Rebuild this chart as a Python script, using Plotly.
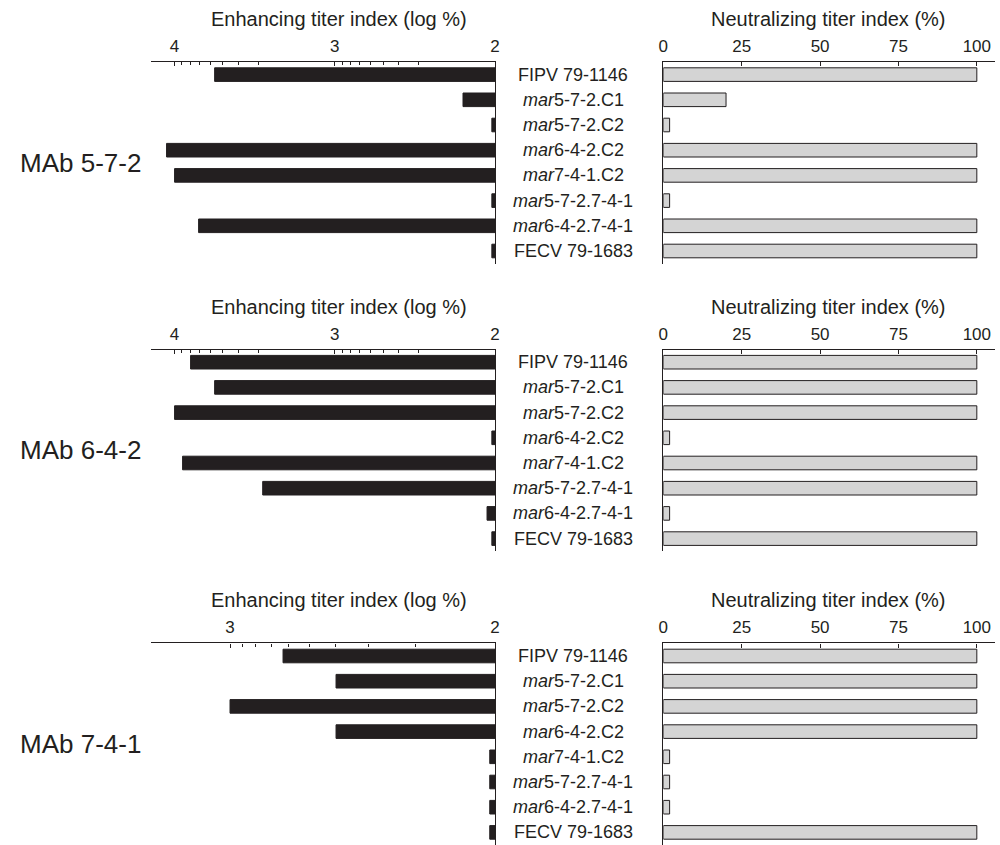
import numpy as np
import plotly.graph_objects as go

# Strains tested against each monoclonal antibody (top to bottom)
strains = ["FIPV 79-1146", "mar5-7-2.C1", "mar5-7-2.C2", "mar6-4-2.C2",
           "mar7-4-1.C2", "mar5-7-2.7-4-1", "mar6-4-2.7-4-1", "FECV 79-1683"]
strain_labels = ["FIPV 79-1146", "<i>mar</i>5-7-2.C1", "<i>mar</i>5-7-2.C2",
                 "<i>mar</i>6-4-2.C2", "<i>mar</i>7-4-1.C2", "<i>mar</i>5-7-2.7-4-1",
                 "<i>mar</i>6-4-2.7-4-1", "FECV 79-1683"]

mab_names = ["MAb 5-7-2", "MAb 6-4-2", "MAb 7-4-1"]

# Enhancing titer index, log10 of percent
enh_572 = [3.75, 2.20, 2.02, 4.05, 4.00, 2.02, 3.85, 2.02]
enh_642 = [3.90, 3.75, 4.00, 2.02, 3.95, 3.45, 2.05, 2.02]
enh_741 = [2.80, 2.60, 3.00, 2.60, 2.02, 2.02, 2.02, 2.02]

# Neutralizing titer index, percent
neu_572 = [100, 20, 2, 100, 100, 2, 100, 100]
neu_642 = [100, 100, 100, 2, 100, 100, 2, 100]
neu_741 = [100, 100, 100, 100, 2, 2, 2, 100]

# Upper end of each enhancing axis (log %) and its labelled ticks
enh_axis_max = [4.15, 4.15, 3.30]
enh_major_ticks = [[2, 3, 4], [2, 3, 4], [2, 3]]
neu_ticks = [0, 25, 50, 75, 100]

panels = list(zip(mab_names, [enh_572, enh_642, enh_741],
                  [neu_572, neu_642, neu_741], enh_axis_max, enh_major_ticks))

W, H = 1000, 845
INK = "#231f20"
GREY = "#d4d4d4"
FONT = "Liberation Sans, Arial, Helvetica, sans-serif"

left_dom = [0.147, 0.495]
right_dom = [0.665, 1.0]
label_x = 0.574
panel_tops = [62, 349.6, 643.4]   # px from top
panel_h = 201.6


def py(px):
    return 1 - px / H


fig = go.Figure()
layout = dict(
    width=W, height=H, margin=dict(l=0, r=0, t=0, b=0),
    paper_bgcolor="white", plot_bgcolor="white", showlegend=False,
    font=dict(family=FONT, color=INK), bargap=0.46,
)
annotations = []

for p, (name, enh, neu, emax, emaj) in enumerate(panels):
    top = panel_tops[p]
    ydom = [max(0.0, py(top + panel_h)), py(top)]
    xl, xr = 2 * p + 1, 2 * p + 2
    yl, yr = 2 * p + 1, 2 * p + 2
    sx = lambda n: "x" if n == 1 else f"x{n}"
    sy = lambda n: "y" if n == 1 else f"y{n}"
    kx = lambda n: "xaxis" if n == 1 else f"xaxis{n}"
    ky = lambda n: "yaxis" if n == 1 else f"yaxis{n}"

    # Enhancing bars grow leftwards from log % = 2
    fig.add_trace(go.Bar(
        y=strains, x=[v - 2 for v in enh], base=2, orientation="h",
        marker=dict(color=INK, line=dict(color=INK, width=1)),
        xaxis=sx(xl), yaxis=sy(yl), hoverinfo="skip"))
    # Neutralizing bars
    fig.add_trace(go.Bar(
        y=strains, x=neu, orientation="h",
        marker=dict(color=GREY, line=dict(color=INK, width=1)),
        xaxis=sx(xr), yaxis=sy(yr), hoverinfo="skip"))

    lo = int(np.floor(emax))
    minor_vals = []
    for d in range(2, lo + 1):
        start = 3 if emax > 4 else 2
        minor_vals += list(np.log10(np.arange(start, 10) * 10.0 ** d))
    minor_vals = [v for v in minor_vals if v < emax] + [emax]

    layout[kx(xl)] = dict(
        domain=left_dom, anchor=sy(yl), side="top", range=[emax, 2],
        tickmode="array", tickvals=emaj, ticktext=[str(t) for t in emaj],
        ticks="inside", ticklen=4, tickwidth=1.2, tickcolor=INK,
        showline=True, linecolor=INK, linewidth=1.3, showgrid=False, zeroline=False,
        tickfont=dict(size=17, color=INK), ticklabelstandoff=2,
        minor=dict(tickmode="array", tickvals=minor_vals, ticks="inside",
                   ticklen=3, tickwidth=1, tickcolor=INK, showgrid=False),
        fixedrange=True)
    layout[ky(yl)] = dict(
        domain=ydom, anchor=sx(xl), side="right", range=[7.5, -0.5],
        showline=True, linecolor=INK, linewidth=1.3, showticklabels=False,
        ticks="", showgrid=False, zeroline=False, fixedrange=True)
    layout[kx(xr)] = dict(
        domain=right_dom, anchor=sy(yr), side="top", range=[0, 105.8],
        tickmode="array", tickvals=neu_ticks,
        ticks="inside", ticklen=4, tickwidth=1.2, tickcolor=INK,
        showline=True, linecolor=INK, linewidth=1.3, showgrid=False, zeroline=False,
        tickfont=dict(size=17, color=INK), ticklabelstandoff=2, fixedrange=True)
    layout[ky(yr)] = dict(
        domain=ydom, anchor=sx(xr), side="left", range=[7.5, -0.5],
        showline=True, linecolor=INK, linewidth=1.3, showticklabels=False,
        ticks="", showgrid=False, zeroline=False, fixedrange=True)

    # Axis titles
    annotations.append(dict(text="Enhancing titer index (log %)", xref="paper", yref="paper",
                            x=0.3375, y=py(top - 43), showarrow=False,
                            font=dict(size=20, color=INK), xanchor="center", yanchor="middle"))
    annotations.append(dict(text="Neutralizing titer index (%)", xref="paper", yref="paper",
                            x=0.8316, y=py(top - 43), showarrow=False,
                            font=dict(size=20, color=INK), xanchor="center", yanchor="middle"))
    # Antibody name
    annotations.append(dict(text=name, xref="paper", yref="paper",
                            x=0.076, y=py(top + panel_h / 2), showarrow=False,
                            font=dict(size=26, color=INK), xanchor="center", yanchor="middle"))
    # Strain names between the two charts
    for i, lab in enumerate(strain_labels):
        annotations.append(dict(text=lab, xref="paper", yref=sy(yr), x=label_x, y=i,
                                showarrow=False, font=dict(size=18, color=INK),
                                xanchor="center", yanchor="middle"))

layout["annotations"] = annotations
fig.update_layout(**layout)
fig.write_html("out.html")
